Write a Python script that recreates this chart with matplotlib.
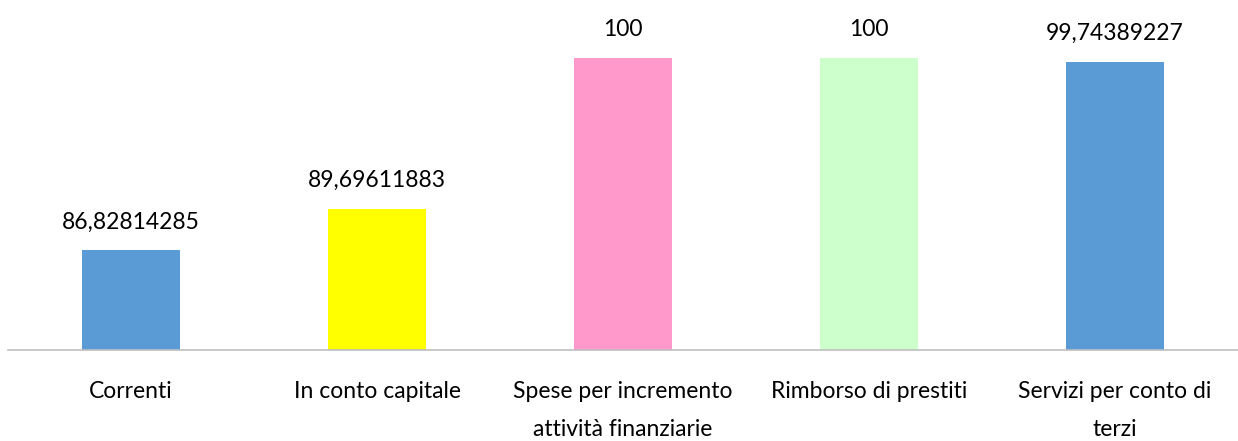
import matplotlib.pyplot as plt

categories = ["Correnti", "In conto capitale", "Spese per incremento\nattività finanziarie",
              "Rimborso di prestiti", "Servizi per conto di\nterzi"]
values = [86.82814285, 89.69611883, 100, 100, 99.74389227]
labels = ["86,82814285", "89,69611883", "100", "100", "99,74389227"]
colors = ["#5B9BD5", "#FFFF00", "#FF99CC", "#CCFFCC", "#5B9BD5"]

plt.rcParams['font.family'] = ['Lato', 'DejaVu Sans']

fig = plt.figure(figsize=(12.38, 4.41), dpi=100)
ax = fig.add_axes([8 / 1238, 91 / 441, 1 - 8 / 1238, 350 / 441])

x = range(len(categories))
bars = ax.bar(x, values, width=0.4, color=colors)
ax.set_ylim(80, 104)
ax.set_xlim(-0.5, len(categories) - 0.5)

for xi, v, lab in zip(x, values, labels):
    ax.annotate(lab, (xi, v), xytext=(0, 13), textcoords="offset points",
                ha="center", va="bottom", fontsize=16.5, color="black")

ax.set_xticks(list(x))
ax.set_xticklabels(categories, fontsize=16.5, linespacing=2.0, va="top")
ax.tick_params(axis="x", length=0, pad=22)
ax.set_yticks([])
for side in ["top", "right", "left"]:
    ax.spines[side].set_visible(False)
ax.spines["bottom"].set_color("#BFBFBF")
ax.spines["bottom"].set_linewidth(1.2)

fig.savefig("out.png", dpi=100)
